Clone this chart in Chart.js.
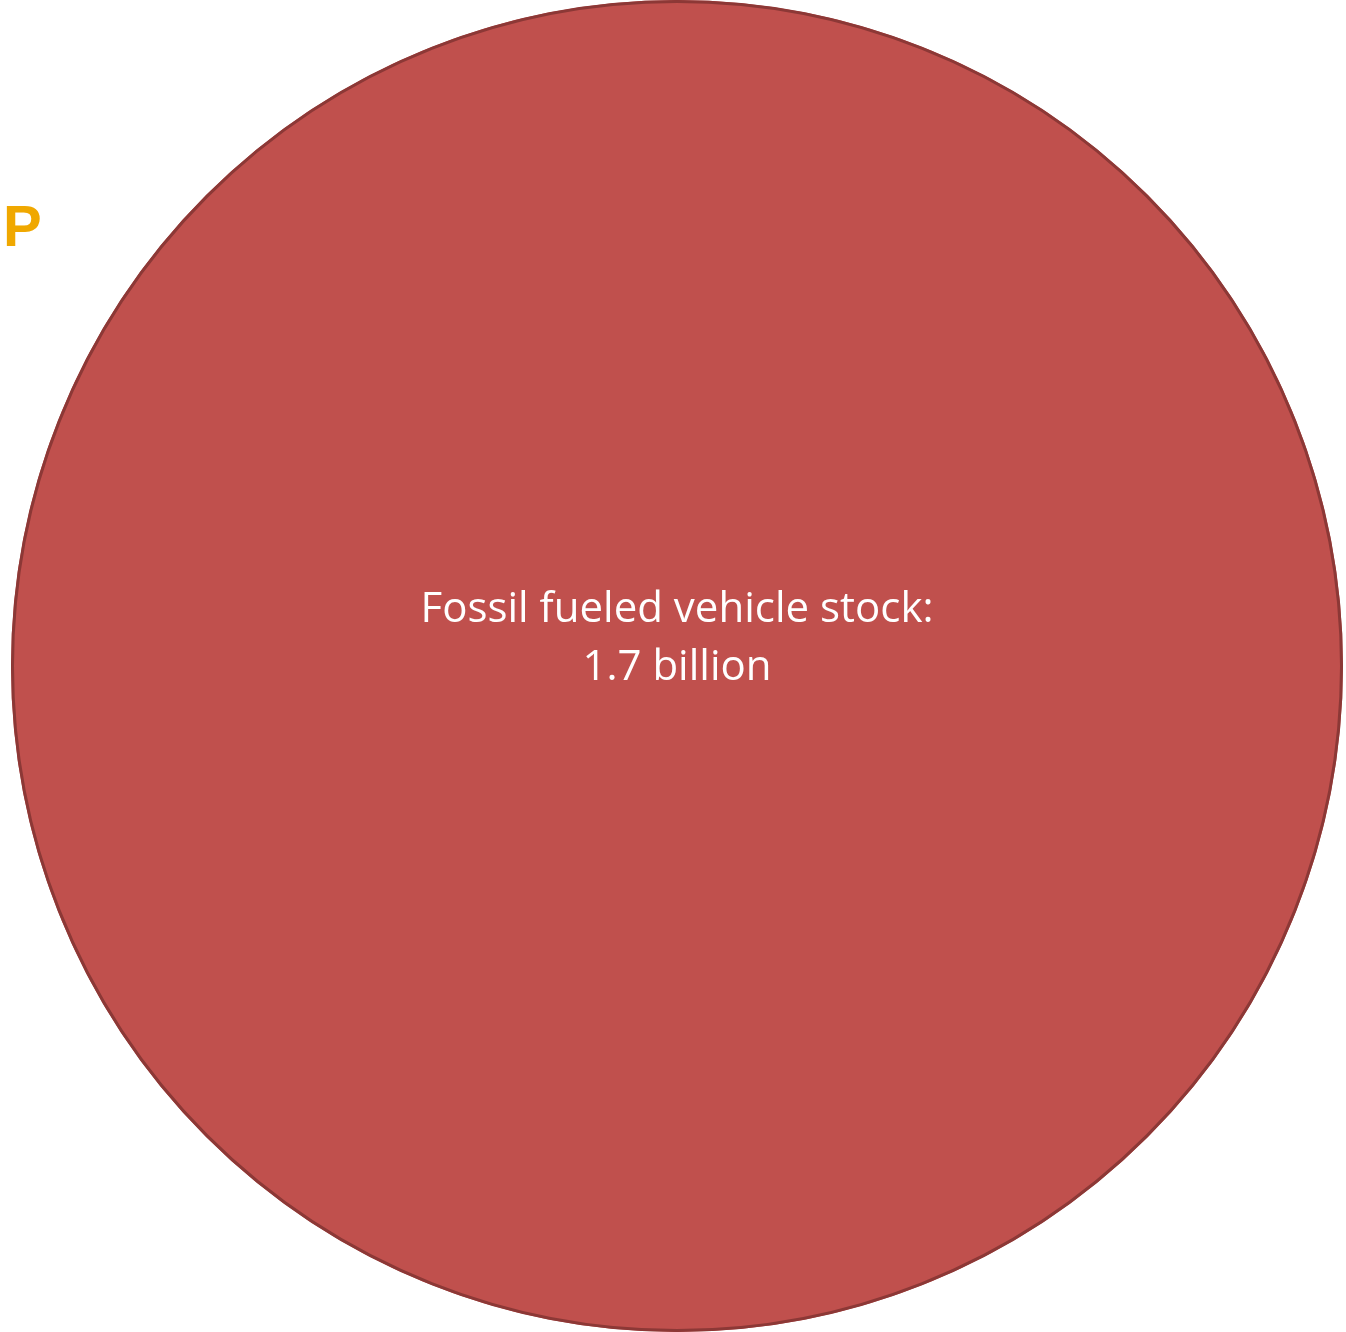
<!DOCTYPE html>
<html>
<head>
<meta charset="utf-8">
<script src="https://cdn.jsdelivr.net/npm/chart.js@4"></script>
<style>
  html, body { margin: 0; padding: 0; background: #fff; }
  #wrap { width: 1346px; height: 1332px; position: relative; }
</style>
</head>
<body>
<div id="wrap"><canvas id="canvas"></canvas></div>
<script>
// vehicle stock, billions
var categories = ['Fossil fueled vehicle stock'];
var stockValues = [1.7];
var unitLabel = 'billion';
var sideLabel = 'P';

document.addEventListener('DOMContentLoaded', function () {
    var canvas = document.getElementById('canvas');

    // outline only on the rim (a single slice would otherwise show a seam at 12 o'clock)
    // plus the white label inside and the orange marker text on the left
    var sliceLabels = {
        id: 'sliceLabels',
        afterDatasetsDraw: function (chart) {
            var ctx = chart.ctx;
            var arc = chart.getDatasetMeta(0).data[0];
            ctx.save();
            ctx.strokeStyle = '#8C3836';
            ctx.lineWidth = 3;
            ctx.beginPath();
            ctx.arc(arc.x, arc.y, arc.outerRadius - 1.5, 0, Math.PI * 2);
            ctx.stroke();

            ctx.fillStyle = '#FFFFFF';
            ctx.textAlign = 'center';
            ctx.textBaseline = 'middle';
            ctx.font = '42px "Open Sans", sans-serif';
            ctx.fillText(categories[0] + ':', arc.x, arc.y - 56);
            ctx.fillText(stockValues[0] + ' ' + unitLabel, arc.x, arc.y + 2);

            ctx.fillStyle = '#F0A800';
            ctx.textAlign = 'left';
            ctx.font = 'bold 58px "Liberation Sans", Arial, sans-serif';
            ctx.fillText(sideLabel, 3, 230);
            ctx.restore();
        }
    };

    var config = {
        type: 'pie',
        data: {
            labels: categories,
            datasets: [
                {
                    data: stockValues,
                    backgroundColor: '#C0504D',
                    borderWidth: 0,
                }
            ]
        },
        options: {
            responsive: true,
            maintainAspectRatio: false,
            animation: false,
            layout: {
                padding: { left: 8, right: 0, top: 0, bottom: 0 }
            },
            plugins: {
                legend: { display: false },
                tooltip: { enabled: false },
            }
        },
        plugins: [sliceLabels],
    };

    window.chart = new Chart(canvas, config);
});
</script>
</body>
</html>
